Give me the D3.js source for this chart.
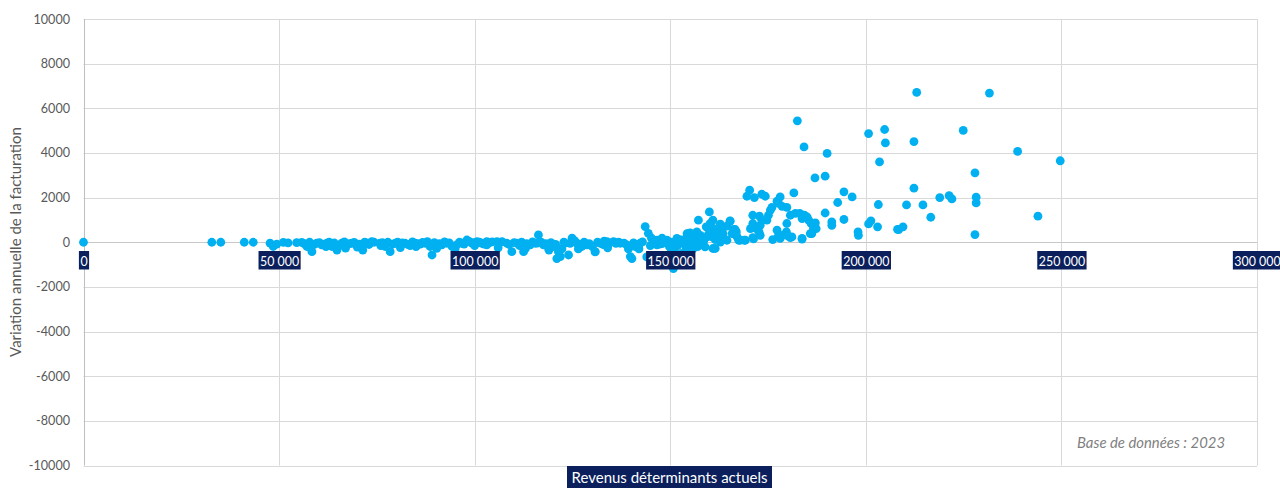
<!DOCTYPE html>
<html>
<head>
<meta charset="utf-8">
<script src="https://cdn.jsdelivr.net/npm/d3@7"></script>
<style>
  html, body { margin: 0; padding: 0; background: #ffffff; }
  svg { display: block; font-family: Lato, "Open Sans", "DejaVu Sans", sans-serif; }
</style>
</head>
<body>
<script>
// ---------------- DATA ----------------
const xTicks = [0, 50000, 100000, 150000, 200000, 250000, 300000];
const yTicks = [-10000, -8000, -6000, -4000, -2000, 0, 2000, 4000, 6000, 8000, 10000];
const xTitle = "Revenus déterminants actuels";
const yTitle = "Variation annuelle de la facturation";
const note = "Base de données : 2023";

// [revenu déterminant, variation annuelle]
const pointsLow = [[0,0],[32800,0],[35100,0],[41100,0],[43400,0],[47700,-40],[48500,-190],[49400,-80],[51100,-10],[52300,-30]];

const pointsBand1 = [
[55800,-10],[57100,-190],[58400,-420],[59600,-45],[60900,-120],[62200,-45],[63500,-190],[64800,-350],[66000,-45],[67300,-120],[68600,-45],[69900,-120],[71400,-350],[72400,-45],[73700,30],
[54500,-20],[56400,-60],[57800,0],[59000,-100],[60300,-20],[61500,-80],[62800,10],[64100,-30],[65400,-150],[66700,20],[68000,-60],[69200,-10],[70600,-80],[71900,10],[73000,-100],[74300,0],
[75800,-45],[77100,-190],[78400,-420],[79700,-45],[80900,-120],[82200,-45],[83500,-150],[84800,-45],[86100,-80],
[76400,-20],[77800,0],[79000,-90],[80300,10],[81500,-30],[82900,-100],[84100,20],[85400,-60],[86700,-10],
[87300,-45],[88600,-190],[89100,-570],[90300,-270],[91600,-120],[92900,-45],[94200,-190],[95400,-120],[96700,-45],[98000,100],[99300,-45],[100600,30],[101800,-45],[103100,-120],
[87900,30],[89700,-20],[91000,-60],[92300,20],[93500,-30],[94800,-250],[96100,0],[97300,-80],[98600,40],[99900,-20],[101200,10],[102400,-80],
[58000,-250],[62000,-200],[67000,-260],[70000,-220],[76000,-150],[81000,-240],[85000,-200],[90000,-150],[95000,-300],[100000,-150]];

const pointsBand2 = [
[103100,30],[105700,30],[108200,-45],[109500,-420],[110800,-45],[112500,-420],[114200,-120],[115500,-45],[116300,330],[117600,-120],[118900,-270],[120100,-190],[121400,-420],[121900,-640],[123100,-45],[124000,-570],[124900,180],[126100,-45],[127400,-190],[128700,-120],[130800,-420],[132100,-45],[133800,30],[135500,30],[137200,-45],[138900,-120],[139800,-640],[141000,-190],[142300,-45],[143600,700],[144400,400],[145700,30],[146600,-120],[147900,180],[149200,-45],
[140200,-730],[144000,-660],[121000,-730],[130800,-430],
[103800,-20],[104500,20],[106300,-40],[107000,30],[108800,-100],[110100,-20],[111500,-150],[112000,10],[113300,-60],[114800,20],[116000,-40],[117000,10],[118200,-60],[119500,-20],[120700,-100],[122300,-300],[122800,10],[124400,-50],[125600,60],[126800,-80],[128000,10],[129300,-60],[130100,-200],[131400,0],[132800,-100],[133100,50],[134500,-30],[136100,-50],[136800,10],[138200,-40],[139300,-300],[140600,-30],[141700,-100],[142900,20],[144900,-150],[145200,180],[147300,-80],[148600,40],
[106000,-250],[113000,-280],[119000,-350],[126500,-300],[134000,-250],[142000,-300]];

const pointsRise = [
[150800,-1180],[148500,-800],[150000,-950],[151500,-700],[153000,-500],[155000,-400],[149800,-200],[150200,-450],[151100,-300],[151900,-150],[152100,-600],[153500,0],[154000,-200],[155800,-300],[156500,-50],[157000,-200],[158500,50],
[150800,-45],[152600,100],[154300,260],[154700,400],
[146600,90],[147900,-60],[149200,90],[150400,10],[151700,170],[153000,90],[154300,390],[155100,240],[153800,-60],[155500,10],[156800,170],[157200,990],[157700,310],[159400,240],[160200,840],[161100,610],[161500,-280],[162300,170],[162800,460],[164500,90],[165300,940],[166200,390],[167100,240],[167900,90],[168900,90],
[160000,1360],[160900,990],[160200,810],[159200,690],[160700,610],[161100,460],[159800,360],[160700,240],[161500,120],[160900,-280],[156800,460],[156400,310],[157200,240],[157700,90],[156000,90],[155100,420],[154700,240],[153800,90],[153000,10],[158100,-90],[158900,-210],
[165300,960],[164500,720],[166200,570],[166900,460],[167500,90],[162800,810],[163300,610],[163500,390],[162800,10],[163600,170],
[170500,610],[171100,210],[173000,310],[172700,460],[169200,90],[171100,1210],[172800,1170],[173400,990],[171100,840],[173000,760],[172000,610],
[171300,150],[166600,570],[165800,390]];

const pointsUpper = [
[170300,2330],[169600,2060],[171500,2000],[173400,2150],[174300,2060],[178100,2030],[177300,1840],[181600,2210],[177700,1740],[178600,1610],[179800,1560],[175600,1440],[176000,1560],[175100,1210],[174700,990],[180700,1210],[182000,1290],[183100,1290],[183700,1060],[184300,1210],[185000,1130],[185400,990],[186000,840],[187100,870],[186600,610],[179800,840],[179700,460],[177300,540],[177700,310],[178100,170],[180200,270],[180700,210],[176200,120],[185800,390],[183700,170],[178600,310],[181100,240],[183700,140],[187300,610],[186200,390],
[182500,5440],[184200,4270],[190100,3980],[187000,2880],[189600,2960],[194400,2260],[196500,2030],[192800,1780],[189600,1310],[191300,910],[191300,760],[194400,1020],[198000,460],[198100,310],[200700,820],[201300,960],[203000,690],[203200,1690],[208100,580],
[213000,6710],[231600,6680],[200700,4870],[204800,5050],[205000,4450],[212300,4510],[203500,3600],[224900,5010],[238800,4070],[249700,3650],[227900,3110],[212300,2420],[210400,1670],[214600,1670],[218900,2000],[221300,2090],[222000,1940],[228200,2020],[228200,1760],[216600,1120],[244000,1170],[208400,570],[209500,690],[227900,345]];

const allPoints = [].concat(pointsLow, pointsBand1, pointsBand2, pointsRise, pointsUpper);

// ---------------- LAYOUT ----------------
const W = 1280, H = 488;
const x = d3.scaleLinear().domain([0, 300000]).range([83.5, 1257]);
const y = d3.scaleLinear().domain([-10000, 10000]).range([465.5, 19]);

const svg = d3.select("body").append("svg").attr("width", W).attr("height", H);

function fitText(sel, target) {
  const node = sel.node();
  const fs = parseFloat(sel.attr("font-size"));
  const w = node.getComputedTextLength();
  if (w > 0) sel.attr("font-size", (fs * target / w).toFixed(2));
}

// grid
svg.append("g").selectAll("line").data(yTicks).join("line")
  .attr("x1", x(0)).attr("x2", x(300000))
  .attr("y1", d => Math.round(y(d)) + 0.5).attr("y2", d => Math.round(y(d)) + 0.5)
  .attr("stroke", "#d9d9d9").attr("stroke-width", 1);
svg.append("g").selectAll("line").data(xTicks.slice(1)).join("line")
  .attr("x1", d => Math.round(x(d)) + 0.5).attr("x2", d => Math.round(x(d)) + 0.5)
  .attr("y1", y(10000)).attr("y2", y(-10000))
  .attr("stroke", "#d9d9d9").attr("stroke-width", 1);
// left axis line & zero line
svg.append("line").attr("x1", Math.round(x(0)) + 0.5).attr("x2", Math.round(x(0)) + 0.5)
  .attr("y1", y(10000)).attr("y2", y(-10000)).attr("stroke", "#bfbfbf");
svg.append("line").attr("x1", x(0)).attr("x2", x(300000))
  .attr("y1", Math.round(y(0)) + 0.5).attr("y2", Math.round(y(0)) + 0.5).attr("stroke", "#c8c8c8");

// y axis labels
const yAxis = svg.append("g").attr("transform", `translate(${x(0)},0)`)
  .call(d3.axisLeft(y).tickValues(yTicks).tickFormat(d => String(d)).tickSize(0).tickPadding(13.5));
yAxis.select(".domain").remove();
yAxis.selectAll("text").attr("font-size", 12.6).attr("fill", "#595959")
  .attr("font-family", "Lato, 'Open Sans', sans-serif");

// points
svg.append("g").selectAll("circle").data(allPoints).join("circle")
  .attr("cx", d => x(d[0])).attr("cy", d => y(d[1])).attr("r", 4.4)
  .attr("fill", "#00b0f0");

// x axis labels in navy boxes
const xfmt = d => d === 0 ? "0" : d3.format(",")(d).replace(/,/g, " ");
const xAxis = svg.append("g").attr("transform", `translate(0,${y(0)})`)
  .call(d3.axisBottom(x).tickValues(xTicks).tickFormat(xfmt).tickSize(0).tickPadding(14.5));
xAxis.select(".domain").remove();
xAxis.selectAll(".tick text").attr("font-size", 12.4).attr("fill", "#ffffff")
  .attr("font-family", "Lato, 'Open Sans', sans-serif");
xAxis.selectAll(".tick").each(function() {
  const t = d3.select(this).select("text");
  const bb = t.node().getBBox();
  d3.select(this).insert("rect", "text")
    .attr("x", bb.x - 1.5).attr("width", bb.width + 3)
    .attr("y", 251 - y(0)).attr("height", 18.5)
    .attr("fill", "#0b1f5c");
});

// x title
const xt = svg.append("g");
const xtText = xt.append("text").text(xTitle)
  .attr("x", 669.5).attr("y", 483).attr("text-anchor", "middle")
  .attr("font-size", 14).attr("fill", "#ffffff");
fitText(xtText, 196);
xt.insert("rect", "text").attr("x", 567).attr("width", 205)
  .attr("y", 466).attr("height", 22).attr("fill", "#0b1f5c");

// y title
const ytText = svg.append("text").text(yTitle)
  .attr("transform", "translate(20.5,242) rotate(-90)")
  .attr("text-anchor", "middle").attr("font-size", 14).attr("fill", "#595959");
fitText(ytText, 230);

// note
const nt = svg.append("text").text(note)
  .attr("x", 1077).attr("y", 447.5).attr("font-style", "italic")
  .attr("font-size", 13).attr("fill", "#7f7f7f");
fitText(nt, 148);
</script>
</body>
</html>
